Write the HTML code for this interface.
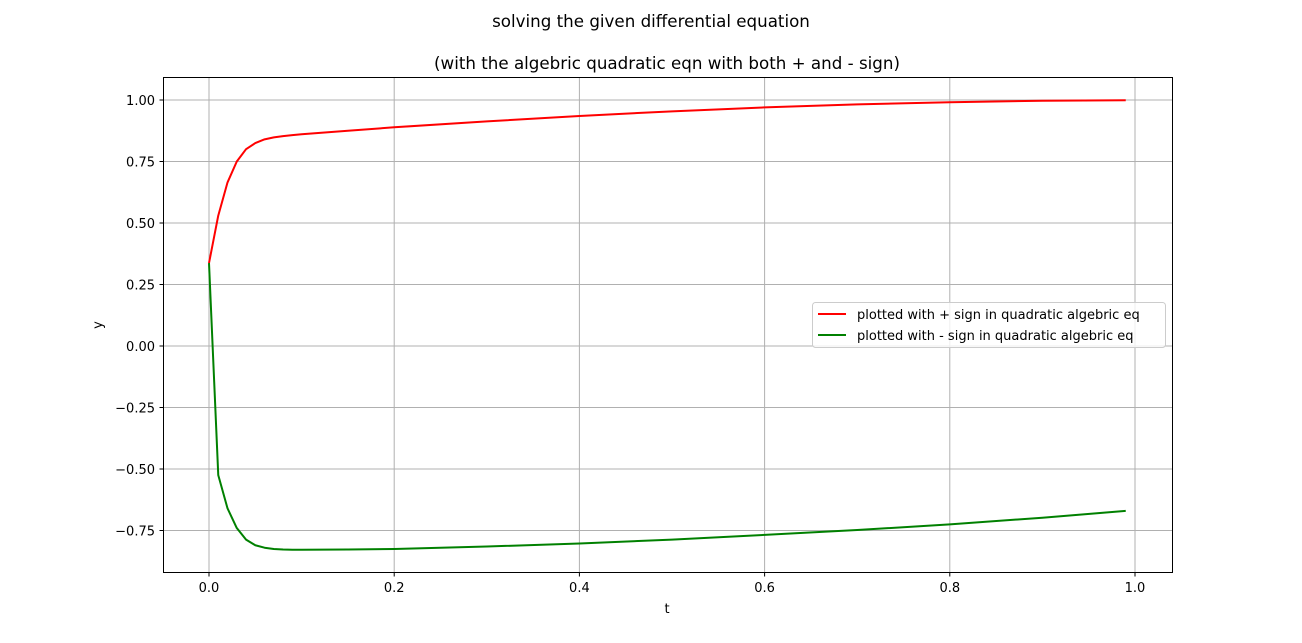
<!DOCTYPE html>
<html><head><meta charset="utf-8"><style>
body{margin:0;background:#fff;}
svg{display:block;font-family:"DejaVu Sans","Liberation Sans",sans-serif;}
</style></head><body>
<svg id="chart" width="1302" height="643" xmlns="http://www.w3.org/2000/svg">
<rect width="1302" height="643" fill="#fff"/>
<text x="651" y="27" text-anchor="middle" font-size="16.7">solving the given differential equation</text>
<text x="667" y="69" text-anchor="middle" font-size="16.7">(with the algebric quadratic eqn with both + and - sign)</text>
<g id="grid"></g>
<g id="series"></g>
<rect x="163.5" y="77.5" width="1009" height="495" fill="none" stroke="#000" stroke-width="1"/>
<g id="ticks"></g>
<text x="667" y="613" text-anchor="middle" font-size="13">t</text>
<text x="102" y="325" text-anchor="middle" font-size="13" transform="rotate(-90 102 325)">y</text>
<g>
<rect x="812.5" y="302.5" width="353" height="45" rx="3" fill="#fff" fill-opacity="0.8" stroke="#ccc"/>
<line x1="818" y1="314" x2="846" y2="314" stroke="red" stroke-width="2"/>
<text x="857" y="319" font-size="13">plotted with + sign in quadratic algebric eq</text>
<line x1="818" y1="335" x2="846" y2="335" stroke="green" stroke-width="2"/>
<text x="857" y="340" font-size="13">plotted with - sign in quadratic algebric eq</text>
</g>
</svg>
<script>
const tVals=[0,0.01,0.02,0.03,0.04,0.05,0.06,0.07,0.08,0.09,0.10,0.15,0.2,0.3,0.4,0.5,0.6,0.7,0.8,0.9,0.99];
const plusVals=[0.337,0.53,0.665,0.75,0.80,0.825,0.84,0.848,0.853,0.857,0.861,0.875,0.889,0.913,0.935,0.954,0.97,0.982,0.991,0.997,0.999];
const minusVals=[0.337,-0.525,-0.66,-0.74,-0.787,-0.81,-0.82,-0.825,-0.827,-0.828,-0.828,-0.827,-0.825,-0.815,-0.803,-0.787,-0.768,-0.748,-0.725,-0.698,-0.67];
const xTicks=[0,0.2,0.4,0.6,0.8,1.0];
const yTicks=[1.0,0.75,0.5,0.25,0,-0.25,-0.5,-0.75];
const xTickLabels=["0.0","0.2","0.4","0.6","0.8","1.0"];
const yTickLabels=["1.00","0.75","0.50","0.25","0.00","\u22120.25","\u22120.50","\u22120.75"];
const NS="http://www.w3.org/2000/svg";
const X=v=>209+v*926, Y=v=>346-v*246;
function mk(tag,attrs,parent,txt){const e=document.createElementNS(NS,tag);for(const k in attrs)e.setAttribute(k,attrs[k]);if(txt!==undefined)e.textContent=txt;parent.appendChild(e);return e;}
const grid=document.getElementById('grid'),ticks=document.getElementById('ticks'),series=document.getElementById('series');
xTicks.forEach((v,i)=>{const x=X(v);
 const g=mk('line',{x1:x,x2:x,y1:77.5,y2:572.5,stroke:'#b0b0b0','stroke-width':1},grid);
 
 
 const t=mk('line',{x1:x,x2:x,y1:572.5,y2:576.5,stroke:'#000'},ticks);
 
 
 const l=mk('text',{x:x,y:592,'text-anchor':'middle','font-size':13},ticks,xTickLabels[i]);
 
 
});
yTicks.forEach((v,i)=>{const y=Y(v);
 const g=mk('line',{x1:163.5,x2:1172.5,y1:y,y2:y,stroke:'#b0b0b0','stroke-width':1},grid);
 
 
 const t=mk('line',{x1:159.5,x2:163.5,y1:y,y2:y,stroke:'#000'},ticks);
 
 
 const l=mk('text',{x:155,y:y+5,'text-anchor':'end','font-size':13},ticks,yTickLabels[i]);
 
 
});
function line(vals,color,name){
 const p=mk('polyline',{points:tVals.map((t,i)=>X(t)+','+Y(vals[i])).join(' '),fill:'none',stroke:color,'stroke-width':2,'stroke-linejoin':'round'},series);
 
 
}
line(plusVals,'red','plus-sign-line');
line(minusVals,'green','minus-sign-line');
</script>
</body></html>
